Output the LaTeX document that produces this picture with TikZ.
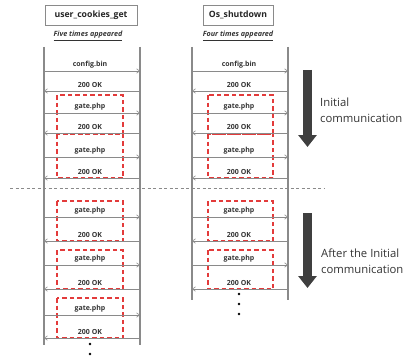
\documentclass[tikz,border=0pt]{standalone}
\usepackage{fontspec}
\setmainfont{Open Sans}
\usetikzlibrary{arrows.meta}
\definecolor{linegray}{HTML}{8A8A8A}
\definecolor{boxred}{HTML}{E33B3B}
\definecolor{darkarrow}{HTML}{3F3F3F}
\begin{document}
\begin{tikzpicture}[x=1pt,y=-1pt,
  lifeline/.style={draw=linegray, line width=1.3pt},
  msg/.style={draw=linegray, line width=0.6pt, -{Straight Barb[length=3pt,width=4.5pt]}},
  msglabel/.style={font=\fontsize{7}{8}\selectfont\bfseries, text=black!80, inner sep=0pt},
  redbox/.style={draw=boxred, dash pattern=on 4.5pt off 3pt, line width=1.4pt},
  titlebox/.style={draw=linegray, line width=0.6pt, font=\fontsize{8.7}{10}\selectfont\bfseries, text=black!85, minimum height=20pt, inner sep=0pt, anchor=center},
  note/.style={font=\fontsize{7.2}{8}\selectfont\bfseries\itshape, text=black!80, inner sep=0.8pt},
  bigarrow/.style={draw=darkarrow, line width=9pt, -{Triangle[length=12pt,width=18pt]}},
  sidetext/.style={font=\fontsize{11.3}{15.5}\selectfont, text=black!80, align=left, anchor=west, inner sep=0pt},
  dot/.style={circle, fill=black, inner sep=0pt, minimum size=2.6pt},
  sep/.style={draw=linegray, line width=0.8pt, dash pattern=on 3pt off 2.5pt}
]
\useasboundingbox (0,0) rectangle (407,361);

% titles
\node[titlebox, minimum width=92pt] (t1) at (91,15) {user\_cookies\_get};
\node[titlebox, minimum width=70pt] (t2) at (238,15) {Os\_shutdown};
\node[note] (n1) at (88,36) {\underline{Five times appeared}};
\node[note] (n2) at (238,36) {\underline{Four times appeared}};

% lifelines
\coordinate (L1top) at (44,47); \coordinate (L1bot) at (44,345);
\coordinate (R1top) at (140,47); \coordinate (R1bot) at (140,345);
\coordinate (L2top) at (192,47); \coordinate (L2bot) at (192,300);
\coordinate (R2top) at (288,47); \coordinate (R2bot) at (288,300);
\draw[lifeline] (L1top) -- (L1bot);
\draw[lifeline] (R1top) -- (R1bot);
\draw[lifeline] (L2top) -- (L2bot);
\draw[lifeline] (R2top) -- (R2bot);

% red dashed boxes (left column)
\draw[redbox] (57,95) rectangle (123,134);
\draw[redbox] (57,134) rectangle (123,178);
\draw[redbox] (57,201) rectangle (123,241);
\draw[redbox] (57,250) rectangle (123,289);
\draw[redbox] (57,298) rectangle (123,338);
% red dashed boxes (right column)
\draw[redbox] (208,95) rectangle (273,134);
\draw[redbox] (208,134) rectangle (273,178);
\draw[redbox] (208,201) rectangle (273,241);
\draw[redbox] (208,250) rectangle (273,289);

% messages, left column
\foreach \y/\dir/\txt [count=\i] in {71/r/config.bin,91/l/200 OK,113/r/gate.php,133/l/200 OK,157/r/gate.php,178/l/200 OK,217/r/gate.php,241/l/200 OK,265/r/gate.php,289/l/200 OK,315/r/gate.php,338/l/200 OK}{
  \coordinate (a\i) at (44,\y);
  \coordinate (b\i) at (140,\y);
  \if r\dir \draw[msg] (a\i) -- (b\i); \else \draw[msg] (b\i) -- (a\i); \fi
  \node[msglabel] (ml\i) at (90,\y-6.5) {\txt};
}
% messages, right column
\foreach \y/\dir/\txt [count=\i] in {71/r/config.bin,91/l/200 OK,113/r/gate.php,133/l/200 OK,157/r/gate.php,178/l/200 OK,217/r/gate.php,241/l/200 OK,265/r/gate.php,289/l/200 OK}{
  \coordinate (c\i) at (192,\y);
  \coordinate (d\i) at (288,\y);
  \if r\dir \draw[msg] (c\i) -- (d\i); \else \draw[msg] (d\i) -- (c\i); \fi
  \node[msglabel] (mr\i) at (239,\y-6.5) {\txt};
}

% separator
\coordinate (s1) at (10,188); \coordinate (s2) at (325,188);
\draw[sep] (s1) -- (s2);

% dots
\node[dot] (dl1) at (90,344) {};
\node[dot] (dl2) at (90,354) {};
\node[dot] (dr1) at (239,294) {};
\node[dot] (dr2) at (239,304) {};
\node[dot] (dr3) at (239,314) {};

% big arrows
\coordinate (ia1) at (307.5,70); \coordinate (ia2) at (307.5,147);
\draw[bigarrow] (ia1) -- (ia2);
\coordinate (aa1) at (307.5,213); \coordinate (aa2) at (307.5,288);
\draw[bigarrow] (aa1) -- (aa2);

\node[sidetext] (st1) at (320,110.5) {Initial\\communication};
\node[sidetext] (st2) at (321,261) {After the Initial\\communication};
\end{tikzpicture}
\end{document}
